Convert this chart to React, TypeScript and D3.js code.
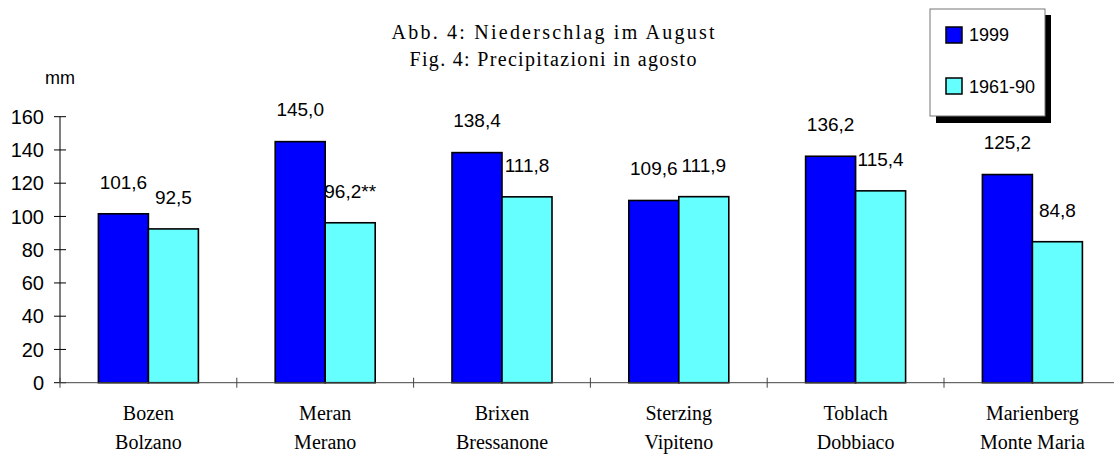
import React from "react";
import * as d3 from "d3";

const categoriesDe = ["Bozen", "Meran", "Brixen", "Sterzing", "Toblach", "Marienberg"];
const categoriesIt = ["Bolzano", "Merano", "Bressanone", "Vipiteno", "Dobbiaco", "Monte Maria"];
const seriesNames = ["1999", "1961-90"];
const values1999 = [101.6, 145.0, 138.4, 109.6, 136.2, 125.2];
const values6190 = [92.5, 96.2, 111.8, 111.9, 115.4, 84.8];
const labelSuffix6190 = ["", "**", "", "", "", ""];
const yTicks = [0, 20, 40, 60, 80, 100, 120, 140, 160];
const titleLines = ["Abb. 4: Niederschlag im August", "Fig. 4: Precipitazioni in agosto"];
const yUnit = "mm";

const colors = ["#0000ff", "#66ffff"];

const W = 1114;
const H = 457;
const plotLeft = 60;
const plotRight = 1120.8;
const plotTop = 116.7;
const plotBottom = 382.7;
const labelLift = 32;

const sans = "'Liberation Sans', Arial, sans-serif";
const serif = "'Liberation Serif', 'Times New Roman', serif";

function fmt(v: number) {
  return v.toFixed(1).replace(".", ",");
}

export default function App() {
  const x = d3.scaleBand<string>().domain(categoriesDe).range([plotLeft, plotRight]).padding(0);
  const inner = d3
    .scaleBand<string>()
    .domain(seriesNames)
    .range([0, x.step()])
    .paddingInner(0)
    .paddingOuter(0.768);
  const y = d3.scaleLinear().domain([0, 160]).range([plotBottom, plotTop]);
  const series = [values1999, values6190];

  const boundaries = d3.range(categoriesDe.length + 1).map((i) => plotLeft + i * x.step());

  return (
    <svg
      width={W}
      height={H}
      style={{ position: "absolute", left: 0, top: 0, background: "#fff" }}
    >
      {/* title */}
      {titleLines.map((t, i) => (
        <text
          key={t}
          x={553}
          y={39 + i * 27}
          textAnchor="middle"
          fontFamily={serif}
          fontSize={20}
          fill="#000"
          textLength={i === 0 ? 323 : 287}
          lengthAdjust="spacing"
        >
          {t}
        </text>
      ))}

      {/* unit */}
      <text x={45} y={84} fontFamily={sans} fontSize={18} fill="#000">
        {yUnit}
      </text>

      {/* y axis */}
      <line x1={plotLeft} x2={plotLeft} y1={plotTop} y2={plotBottom} stroke="#000" strokeWidth={1} />
      {yTicks.map((t) => (
        <g key={t}>
          <line x1={plotLeft - 6} x2={plotLeft + 6} y1={y(t)} y2={y(t)} stroke="#000" strokeWidth={1} />
          <text
            x={44}
            y={y(t)}
            dy="0.36em"
            textAnchor="end"
            fontFamily={sans}
            fontSize={20}
            fill="#000"
          >
            {t}
          </text>
        </g>
      ))}

      {/* value labels (drawn beneath bars, as in the reference) */}
      {categoriesDe.map((c, ci) =>
        series.map((vals, si) => {
          const cx = (x(c) ?? 0) + (inner(seriesNames[si]) ?? 0) + inner.bandwidth() / 2;
          const cy = y(vals[ci]) - labelLift;
          const txt = fmt(vals[ci]) + (si === 1 ? labelSuffix6190[ci] : "");
          return (
            <text
              key={c + si}
              x={cx}
              y={cy}
              dy="0.36em"
              textAnchor="middle"
              fontFamily={sans}
              fontSize={19}
              fill="#000"
            >
              {txt}
            </text>
          );
        })
      )}

      {/* bars */}
      {categoriesDe.map((c, ci) => (
        <g key={c}>
          {series.map((vals, si) => {
            const bx = (x(c) ?? 0) + (inner(seriesNames[si]) ?? 0);
            return (
              <rect
                key={si}
                x={bx}
                y={y(vals[ci])}
                width={inner.bandwidth()}
                height={y(0) - y(vals[ci])}
                fill={colors[si]}
                stroke="#000"
                strokeWidth={1.6}
              />
            );
          })}
        </g>
      ))}

      {/* x axis */}
      <line x1={plotLeft} x2={plotRight} y1={plotBottom} y2={plotBottom} stroke="#444" strokeWidth={1} />
      {boundaries.map((b, i) => (
        <line key={i} x1={b} x2={b} y1={plotBottom - 5} y2={plotBottom + 5} stroke="#444" strokeWidth={1} />
      ))}

      {/* category labels */}
      {categoriesDe.map((c, ci) => {
        const cx = (x(c) ?? 0) + x.bandwidth() / 2;
        return (
          <g key={c}>
            <text x={cx} y={420} textAnchor="middle" fontFamily={serif} fontSize={20} fill="#000">
              {c}
            </text>
            <text x={cx} y={449} textAnchor="middle" fontFamily={serif} fontSize={20} fill="#000">
              {categoriesIt[ci]}
            </text>
          </g>
        );
      })}

      {/* legend */}
      <rect x={936} y={15} width={115} height={108} fill="#000" />
      <rect x={930} y={9} width={115} height={107} fill="#fff" stroke="#777" strokeWidth={1} />
      {seriesNames.map((s, i) => (
        <g key={s}>
          <rect x={946} y={27 + i * 51} width={16} height={16} fill={colors[i]} stroke="#000" strokeWidth={1.5} />
          <text x={969} y={41 + i * 52} fontFamily={sans} fontSize={18} fill="#000">
            {s}
          </text>
        </g>
      ))}
    </svg>
  );
}
